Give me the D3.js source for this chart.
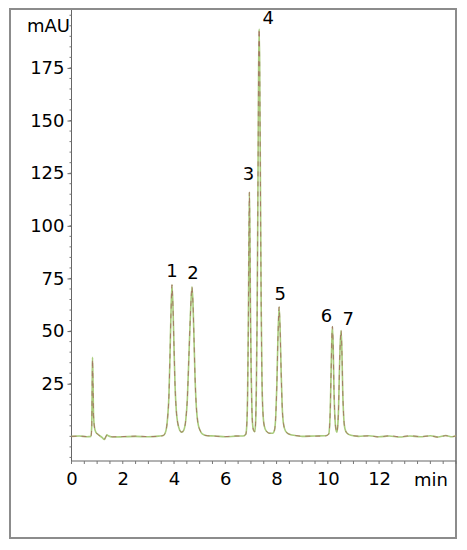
<!DOCTYPE html>
<html>
<head>
<meta charset="utf-8">
<script src="https://cdn.jsdelivr.net/npm/d3@7/dist/d3.min.js"></script>
<style>
  html, body { margin: 0; padding: 0; background: #fff; }
  svg { display: block; }
  text { font-family: "DejaVu Sans", Verdana, sans-serif; fill: #000; }
</style>
</head>
<body>
<svg id="chart" width="467" height="550"></svg>
<script>
// ---------- DATA ----------
const timeMin = [
  0.00, 0.30, 0.60, 0.76, 0.79, 0.81, 0.82, 0.84, 0.86, 0.90, 0.95, 1.05, 1.20, 1.28, 1.33, 1.38, 1.43, 1.60, 2.00, 2.50, 3.00, 3.40,
  3.58, 3.68, 3.75, 3.80, 3.84, 3.88, 3.92, 3.96, 4.00, 4.04, 4.09, 4.15, 4.22, 4.30,
  4.38, 4.46, 4.52, 4.58, 4.64, 4.70, 4.74, 4.78, 4.82, 4.87, 4.93, 5.01, 5.10, 5.30,
  5.60, 6.00, 6.40, 6.70,
  6.80, 6.84, 6.87, 6.90, 6.92, 6.94, 6.96, 6.98, 7.01, 7.04, 7.08, 7.12, 7.15,
  7.18, 7.21, 7.24, 7.27, 7.30, 7.32, 7.34, 7.37, 7.40, 7.43, 7.47, 7.52, 7.60, 7.72, 7.85,
  7.92, 7.97, 8.01, 8.05, 8.10, 8.14, 8.18, 8.22, 8.27, 8.35, 8.50, 8.80,
  9.00, 9.50, 9.90,
  10.03, 10.07, 10.10, 10.13, 10.16, 10.18, 10.21, 10.24, 10.28, 10.32, 10.35,
  10.38, 10.42, 10.45, 10.49, 10.52, 10.55, 10.58, 10.62, 10.67, 10.75, 10.90,
  11.20, 11.60, 12.00, 12.40, 12.80, 13.20, 13.60, 14.00, 14.30, 14.60, 14.85, 15.00
];
const signalGreen = [
  0.0, 0.2, -0.2, 0.0, 5, 30, 37.5, 25, 10, 4, 2, 0.8, -0.6, -1.5, -0.5, 0.8, 0.3, -0.3, -0.2, 0.0, -0.2, 0.1,
  0.4, 2.5, 9, 19, 37, 58, 72, 61, 42, 24, 12, 6, 3, 2,
  3, 8, 18, 38, 58, 71, 63, 46, 28, 14, 6.5, 3, 1.2, 0.3,
  0.2, -0.2, 0.1, 0.2,
  1, 6, 20, 55, 90, 116, 95, 62, 30, 12, 4, 2.5, 2.2,
  6, 22, 55, 110, 175, 193.5, 178, 120, 62, 28, 11, 5, 2.5, 1.5, 1.5,
  3, 10, 24, 45, 61.5, 50, 30, 14, 6, 2.5, 1, 0.3,
  0.0, 0.2, 0.3,
  1, 5, 15, 32, 48, 52.2, 42, 22, 8, 3, 2,
  4, 14, 30, 46, 50.3, 40, 22, 9, 3.5, 1.5, 0.5,
  0.0, 0.3, -0.2, 0.2, -0.3, 0.2, -0.2, 0.3, -0.3, 0.4, -0.2, 0.3
];
const signalRed = [
  0.0, 0.1, -0.1, 0.0, 4, 28, 36.5, 24, 10, 4, 2, 0.7, -0.5, -1.3, -0.4, 0.6, 0.2, -0.2, -0.1, 0.1, -0.1, 0.0,
  0.4, 2.5, 9, 19, 37, 58, 72, 61, 42, 24, 12, 6, 3, 2,
  3, 8, 18, 38, 58, 71, 63, 46, 28, 14, 6.5, 3, 1.2, 0.3,
  0.1, -0.1, 0.2, 0.1,
  1, 6, 20, 55, 90, 116, 95, 62, 30, 12, 4, 2.5, 2.2,
  6, 22, 55, 110, 175, 193.5, 178, 120, 62, 28, 11, 5, 2.5, 1.5, 1.5,
  3, 10, 24, 45, 61.5, 50, 30, 14, 6, 2.5, 1, 0.3,
  0.1, 0.1, 0.2,
  1, 5, 15, 32, 48, 52.2, 42, 22, 8, 3, 2,
  4, 14, 30, 46, 50.3, 40, 22, 9, 3.5, 1.5, 0.5,
  0.1, 0.2, -0.3, 0.3, -0.2, 0.3, -0.1, 0.2, -0.4, 0.3, -0.1, 0.2
];
const peakNames   = ["1", "2", "3", "4", "5", "6", "7"];
const peakTimes   = [3.92, 4.70, 6.94, 7.32, 8.10, 10.18, 10.52];
const peakHeights = [72, 71, 116, 193.5, 61.5, 52.2, 50.3];
const yTickValues = [25, 50, 75, 100, 125, 150, 175];
const xTickValues = [0, 2, 4, 6, 8, 10, 12];
const yUnit = "mAU";
const xUnit = "min";

// ---------- LAYOUT ----------
const FS = "18px";
const svg = d3.select("#chart");
const x = d3.scaleLinear().domain([0, 15]).range([71.5, 456]);
const y = d3.scaleLinear().domain([-11.7, 202.5]).range([461, 10]);

// outer frame
svg.append("rect").attr("x", 10).attr("y", 9).attr("width", 446).attr("height", 529)
  .attr("fill", "#fff").attr("stroke", "#8c8c8c").attr("stroke-width", 2);

// y axis
const yAxisG = svg.append("g").attr("transform", `translate(${x(0)},0)`);
yAxisG.append("line").attr("x1", 0).attr("x2", 0).attr("y1", 10).attr("y2", y(-11.7))
  .attr("stroke", "#666").attr("stroke-width", 1);
const yMinor = d3.range(-10, 201, 5);
yAxisG.selectAll("line.minor").data(yMinor).join("line").attr("class", "minor")
  .attr("x1", -2).attr("x2", 0).attr("y1", d => y(d)).attr("y2", d => y(d))
  .attr("stroke", "#777").attr("stroke-width", 1);
const yAxis = d3.axisLeft(y).tickValues(yTickValues).tickSize(4).tickPadding(3);
const yA = svg.append("g").attr("transform", `translate(${x(0)},0)`).call(yAxis);
yA.select(".domain").remove();
yA.selectAll(".tick line").attr("stroke", "#666");
yA.selectAll(".tick text").style("font-size", FS).attr("fill", "#000")
  .attr("font-family", "DejaVu Sans, Verdana, sans-serif");
svg.append("text").attr("x", 70).attr("y", 27).attr("text-anchor", "end")
  .attr("dominant-baseline", "middle").style("font-size", FS).text(yUnit);

// x axis
const xAxisG = svg.append("g").attr("transform", `translate(0,${y(-11.7)})`);
xAxisG.append("line").attr("x1", x(0)).attr("x2", x(15)).attr("y1", 0).attr("y2", 0)
  .attr("stroke", "#666").attr("stroke-width", 1);
const xMinor = d3.range(0, 15.01, 0.5);
xAxisG.selectAll("line.minor").data(xMinor).join("line").attr("class", "minor")
  .attr("x1", d => x(d)).attr("x2", d => x(d)).attr("y1", 0).attr("y2", 3)
  .attr("stroke", "#777").attr("stroke-width", 1);
const xAxis = d3.axisBottom(x).tickValues(xTickValues).tickSize(0).tickPadding(11);
const xA = svg.append("g").attr("transform", `translate(0,${y(-11.7)})`).call(xAxis);
xA.select(".domain").remove();
xA.selectAll(".tick text").style("font-size", FS).attr("fill", "#000")
  .attr("font-family", "DejaVu Sans, Verdana, sans-serif");
svg.append("text").attr("x", 431).attr("y", 481).attr("text-anchor", "middle")
  .attr("dominant-baseline", "middle").style("font-size", FS).text(xUnit);

// traces
const ptsGreen = timeMin.map((t, i) => [t, signalGreen[i]]);
const ptsRed = timeMin.map((t, i) => [t, signalRed[i]]);
const line = d3.line().x(d => x(d[0])).y(d => y(d[1])).curve(d3.curveMonotoneX);
svg.append("path").datum(ptsGreen).attr("d", line).attr("fill", "none")
  .attr("stroke", "#a9cc7c").attr("stroke-width", 1.6);
svg.append("path").datum(ptsRed).attr("d", line).attr("fill", "none")
  .attr("stroke", "#a56b60").attr("stroke-width", 1).attr("stroke-dasharray", "5,5")
  .attr("stroke-opacity", 0.85);

// peak labels
const labelDx = [0, 1, -1, 9, 1, -6, 7];
const labelDy = [-13, -13, -17, -10, -12, -9, -10];
svg.selectAll("text.peak").data(peakNames).join("text").attr("class", "peak")
  .attr("x", (d, i) => x(peakTimes[i]) + labelDx[i])
  .attr("y", (d, i) => y(peakHeights[i]) + labelDy[i])
  .attr("text-anchor", "middle").attr("dominant-baseline", "middle")
  .style("font-size", FS).text(d => d);
</script>
</body>
</html>
